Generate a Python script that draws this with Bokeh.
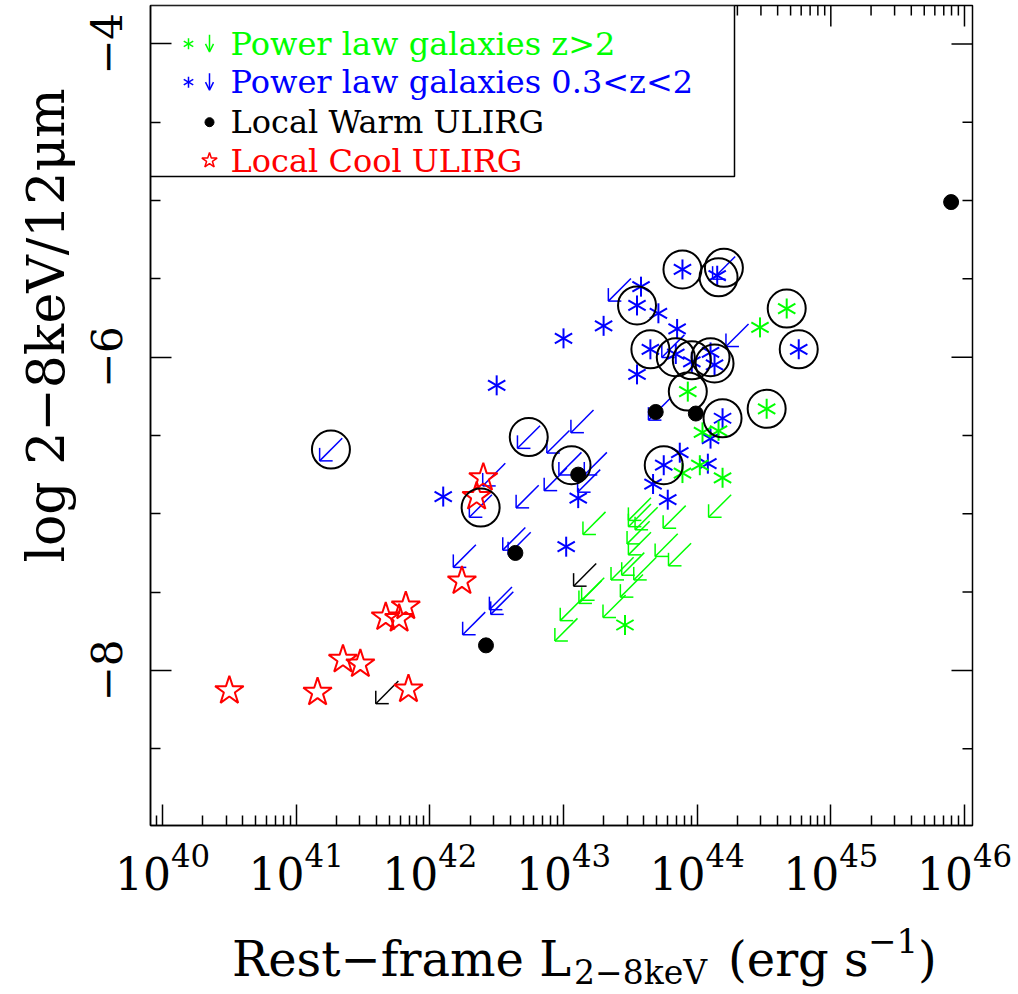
import math

from bokeh.plotting import figure
from bokeh.layouts import column
from bokeh.models import (Range1d, FixedTicker, LogTickFormatter, CustomJSTickFormatter,
                          Arrow, OpenHead, Title, Div)
from bokeh.core.properties import value
from bokeh.embed import file_html
from bokeh.resources import INLINE

# ---------------------------------------------------------------------------
# Data: log10 L(2-8 keV) [erg/s] and log10 of the 2-8keV / 12um flux ratio
# ---------------------------------------------------------------------------
# Local cool ULIRGs (red stars)
cool_logL = [40.50, 41.16, 41.35, 41.48, 41.84, 41.67, 41.77, 41.82, 42.24, 42.40, 42.35]
cool_ratio = [-8.13, -8.14, -7.93, -7.96, -8.12, -7.66, -7.67, -7.59, -7.43, -6.77, -6.89]

# Local warm ULIRGs (black dots) and their upper limits (black arrows)
warm_logL = [45.90, 43.69, 43.99, 43.11, 42.64, 42.42]
warm_ratio = [-5.01, -6.35, -6.36, -6.75, -7.25, -7.84]
warm_lim_logL = [41.68, 43.16]
warm_lim_ratio = [-8.14, -7.39]

# Power-law galaxies at z > 2: detections and upper limits (green)
hiz_logL = [43.93, 44.52, 44.67, 44.47, 44.04, 44.16, 43.89, 44.02, 44.19, 43.46]
hiz_ratio = [-6.22, -6.33, -5.69, -5.81, -6.48, -6.47, -6.74, -6.69, -6.77, -7.71]
hiz_lim_logL = [44.17, 43.83, 43.57, 43.57, 43.62, 43.56, 43.57, 43.77, 43.87, 43.44,
                43.52, 43.61, 43.51, 43.38, 43.20, 43.22, 43.06, 43.02, 43.23]
hiz_lim_ratio = [-6.95, -7.02, -6.97, -7.01, -7.03, -7.12, -7.19, -7.20, -7.26, -7.35,
                 -7.32, -7.35, -7.46, -7.59, -7.50, -7.48, -7.61, -7.74, -7.06]

# Power-law galaxies at 0.3 < z < 2: detections and upper limits (blue)
midz_logL = [43.00, 42.50, 42.10, 43.11, 43.02, 43.58, 43.55, 43.71, 43.30, 43.85,
             43.65, 43.84, 43.96, 44.10, 44.13, 43.55, 44.19, 44.76, 43.89, 44.15,
             43.75, 43.87, 43.67, 43.78, 44.08, 44.10]
midz_ratio = [-5.88, -6.18, -6.89, -6.90, -7.21, -5.55, -5.67, -5.72, -5.80, -5.82,
              -5.95, -5.98, -6.03, -5.97, -6.05, -6.11, -6.39, -5.95, -5.44, -5.48,
              -6.69, -6.61, -6.81, -6.91, -6.68, -6.52]
midz_lim_logL = [41.26, 42.74, 43.14, 42.96, 43.05, 43.24, 43.19, 42.94, 42.73, 42.48,
                 42.38, 42.63, 42.67, 42.26, 42.53, 42.54, 42.33, 43.42, 44.20, 44.30,
                 43.82, 43.72]
midz_lim_ratio = [-6.59, -6.51, -6.41, -6.54, -6.68, -6.68, -6.79, -6.78, -6.89, -6.75,
                  -6.95, -7.16, -7.19, -7.27, -7.54, -7.57, -7.70, -5.57, -5.43, -5.86,
                  -5.93, -6.33]

# Sources marked with an open circle
circ_logL = [41.26, 42.74, 43.06, 42.38, 43.55, 43.89, 44.20, 44.16, 43.65, 43.84,
             43.96, 44.10, 44.13, 43.93, 44.19, 43.75, 44.52, 44.67, 44.76]
circ_ratio = [-6.59, -6.51, -6.69, -6.96, -5.67, -5.44, -5.43, -5.49, -5.95, -6.00,
              -6.02, -6.00, -6.04, -6.22, -6.39, -6.69, -6.33, -5.69, -5.95]

legend_labels = ["Power law galaxies z>2", "Power law galaxies 0.3<z<2",
                 "Local Warm ULIRG", "Local Cool ULIRG"]

x_major_exp = [40, 41, 42, 43, 44, 45, 46]
y_major = [-8, -6, -4]

# ---------------------------------------------------------------------------
# Layout
# ---------------------------------------------------------------------------
X_LO, X_HI = 39.91, 46.06
Y_LO, Y_HI = -8.99, -3.755
W, H = 1018, 994
STRIP_H = 79                      # band under the plot holding the x-axis title
PH = H - STRIP_H                  # height of the main plot canvas
LEFT, RIGHT, TOP, BOTTOM = 150, 46, 5, PH - 5 - 820
FW = W - LEFT - RIGHT
FH = PH - TOP - BOTTOM
DEX_PER_PX = (X_HI - X_LO) / FW
UNIT_PER_PX = (Y_HI - Y_LO) / FH

SERIF = "DejaVu Serif"
GREEN, BLUE, RED, BLACK = "#00ff00", "#0000ff", "#ff0000", "#000000"


def lin(v):
    return [10.0 ** a for a in v]


def px_x(cx):
    """canvas x pixel -> data x"""
    return 10.0 ** (X_LO + (cx - LEFT) * DEX_PER_PX)


def px_y(cy):
    """canvas y pixel -> data y"""
    return Y_HI - (cy - TOP) * UNIT_PER_PX


p = figure(width=W, height=PH, x_axis_type="log",
           x_range=Range1d(10 ** X_LO, 10 ** X_HI), y_range=Range1d(Y_LO, Y_HI),
           output_backend="svg", toolbar_location=None,
           min_border_left=LEFT, min_border_right=RIGHT,
           min_border_top=TOP, min_border_bottom=BOTTOM)
p.grid.visible = False
p.background_fill_color = "white"
p.border_fill_color = "white"
p.outline_line_color = BLACK
p.outline_line_width = 1.5

# ---------------------------------------------------------------------------
# Axes: ticks on all four sides, pointing inwards
# ---------------------------------------------------------------------------
MAJ_LEN, MIN_LEN = 21, 10
x_major = [10.0 ** k for k in x_major_exp]
x_minor = [m * 10.0 ** k for k in range(39, 46) for m in range(2, 10)
           if X_LO <= math.log10(m * 10.0 ** k) <= X_HI]
y_minor = [h / 2 for h in range(-17, -8) if h % 4 != 0]

xa = p.xaxis[0]
xa.ticker = FixedTicker(ticks=x_major, minor_ticks=x_minor)
xa.formatter = LogTickFormatter()
xa.major_label_standoff = 18
xa.major_label_text_font_size = "44px"

ya = p.yaxis[0]
ya.ticker = FixedTicker(ticks=y_major, minor_ticks=y_minor)
ya.formatter = CustomJSTickFormatter(
    code="return tick < 0 ? '\u2212' + Math.abs(tick) : String(tick);")
ya.major_label_orientation = "vertical"
ya.major_label_standoff = 28
ya.major_label_text_font_size = "42px"

for ax in (xa, ya):
    ax.major_tick_in = MAJ_LEN
    ax.major_tick_out = 0
    ax.minor_tick_in = MIN_LEN
    ax.minor_tick_out = 0
    ax.major_tick_line_width = 1.5
    ax.minor_tick_line_width = 1.5
    ax.axis_line_width = 1.5
    ax.major_tick_line_color = BLACK
    ax.minor_tick_line_color = BLACK
    ax.axis_line_color = BLACK
    ax.major_label_text_font = SERIF
    ax.major_label_text_color = BLACK

# y-axis title beside the tick labels, its upper end a little below the frame top
p.add_layout(Title(text="log 2\u22128keV/12\u03bcm", align="right", offset=83,
                   standoff=26, text_font=SERIF, text_font_size="52px",
                   text_font_style="normal", text_color=BLACK), "left")

# mirrored ticks along the top and right edges of the frame
tx0, ty0, tx1, ty1 = [], [], [], []
for xv, ln in [(v, MAJ_LEN) for v in x_major] + [(v, MIN_LEN) for v in x_minor]:
    tx0.append(xv); tx1.append(xv)
    ty0.append(Y_HI); ty1.append(Y_HI - ln * UNIT_PER_PX)
for yv, ln in [(v, MAJ_LEN) for v in y_major] + [(v, MIN_LEN) for v in y_minor]:
    tx0.append(10 ** X_HI); tx1.append(10 ** (X_HI - ln * DEX_PER_PX))
    ty0.append(yv); ty1.append(yv)
p.segment(x0=tx0, y0=ty0, x1=tx1, y1=ty1, line_color=BLACK, line_width=1.5)

# ---------------------------------------------------------------------------
# Symbols
# ---------------------------------------------------------------------------
HALF = 11.3   # half length of an upper-limit arrow, px (in x and in y)
BARB = 13.0   # length of the arrow-head barbs, px


def limit_arrows(lx, ly, color):
    x0, y0, x1, y1 = [], [], [], []
    for a, b in zip(lx, ly):
        tip_x, tip_y = a - HALF * DEX_PER_PX, b - HALF * UNIT_PER_PX
        # shaft, pointing down and to the left
        x0.append(10 ** (a + HALF * DEX_PER_PX)); y0.append(b + HALF * UNIT_PER_PX)
        x1.append(10 ** tip_x); y1.append(tip_y)
        # horizontal barb
        x0.append(10 ** tip_x); y0.append(tip_y)
        x1.append(10 ** (tip_x + BARB * DEX_PER_PX)); y1.append(tip_y)
        # vertical barb
        x0.append(10 ** tip_x); y0.append(tip_y)
        x1.append(10 ** tip_x); y1.append(tip_y + BARB * UNIT_PER_PX)
    p.segment(x0=x0, y0=y0, x1=x1, y1=y1, line_color=color, line_width=1.5)


def asterisks(xs, ys, color, size=20, lw=2.0):
    for ang in (math.pi / 2, math.pi / 6, -math.pi / 6):
        p.scatter(xs, ys, marker="dash", size=size, angle=ang,
                  line_color=color, line_width=lw)


# legend box (drawn first so it sits underneath)
p.quad(left=[10 ** X_LO], right=[px_x(734)], top=[Y_HI], bottom=[px_y(176)],
       fill_color="white", line_color=BLACK, line_width=1.5)

limit_arrows(midz_lim_logL, midz_lim_ratio, BLUE)
limit_arrows(hiz_lim_logL, hiz_lim_ratio, GREEN)
limit_arrows(warm_lim_logL, warm_lim_ratio, BLACK)

asterisks(lin(midz_logL), midz_ratio, BLUE)
asterisks(lin(hiz_logL), hiz_ratio, GREEN)

p.scatter(lin(cool_logL), cool_ratio, marker="star", size=30,
          fill_color=None, line_color=RED, line_width=2)
p.scatter(lin(warm_logL), warm_ratio, marker="circle", size=15,
          fill_color=BLACK, line_color=BLACK)
p.scatter(lin(circ_logL), circ_ratio, marker="circle", size=38,
          fill_color=None, line_color=BLACK, line_width=2)

# ---------------------------------------------------------------------------
# Legend contents
# ---------------------------------------------------------------------------
row_base = [43.3, 81.7, 121.7, 160.0]
row_color = [GREEN, BLUE, BLACK, RED]
p.text(x=[px_x(230)] * 4, y=[px_y(v) for v in row_base], text=legend_labels,
       text_color=row_color, text_font=value(SERIF), text_font_size="32px",
       text_baseline="alphabetic", text_align="left")

for cy, col in ((43.3, GREEN), (81.7, BLUE)):
    asterisks([px_x(188)], [px_y(cy)], col, size=11, lw=1.5)
    p.add_layout(Arrow(x_start=px_x(209), y_start=px_y(cy - 9), x_end=px_x(209),
                       y_end=px_y(cy + 8), line_color=col, line_width=1.5,
                       end=OpenHead(size=8, line_color=col, line_width=1.5)))
p.scatter([px_x(209)], [px_y(121.7)], marker="circle", size=9,
          fill_color=BLACK, line_color=BLACK)
p.scatter([px_x(209)], [px_y(160)], marker="star", size=16,
          fill_color=None, line_color=RED, line_width=1.5)

# ---------------------------------------------------------------------------
# x-axis title with subscript and superscript, in a band below the plot
# ---------------------------------------------------------------------------
title_text = ["Rest\u2212frame L", "2\u22128keV", "(erg s", "\u22121", ")"]
title_x = [232, 574, 728, 868, 918]          # left edge of each piece, px
title_base = [976, 985, 976, 953, 976]       # baseline of each piece, px from page top
title_size = [48, 33, 48, 34, 48]            # font size, px

LINE_H = 0.8                      # line-height of each piece, in em
BASE_OFF = (LINE_H - 1.164) / 2 + 0.928   # baseline below the box top, in em

spans = []
for t, tx, tb, fs in zip(title_text, title_x, title_base, title_size):
    top = (tb - PH) - BASE_OFF * fs
    spans.append(
        f'<span style="position:absolute;left:{tx}px;top:{top:.1f}px;font-size:{fs}px;'
        f'line-height:{LINE_H};white-space:nowrap">{t}</span>')
xtitle = Div(
    text=(f'<div style="position:relative;width:{W}px;height:{STRIP_H}px;'
          f"font-family:'{SERIF}';color:black;background:white\">" + "".join(spans) + "</div>"),
    width=W, height=STRIP_H, margin=0)

layout = column(p, xtitle, spacing=0)

open("out.html", "w").write(file_html(layout, INLINE))
